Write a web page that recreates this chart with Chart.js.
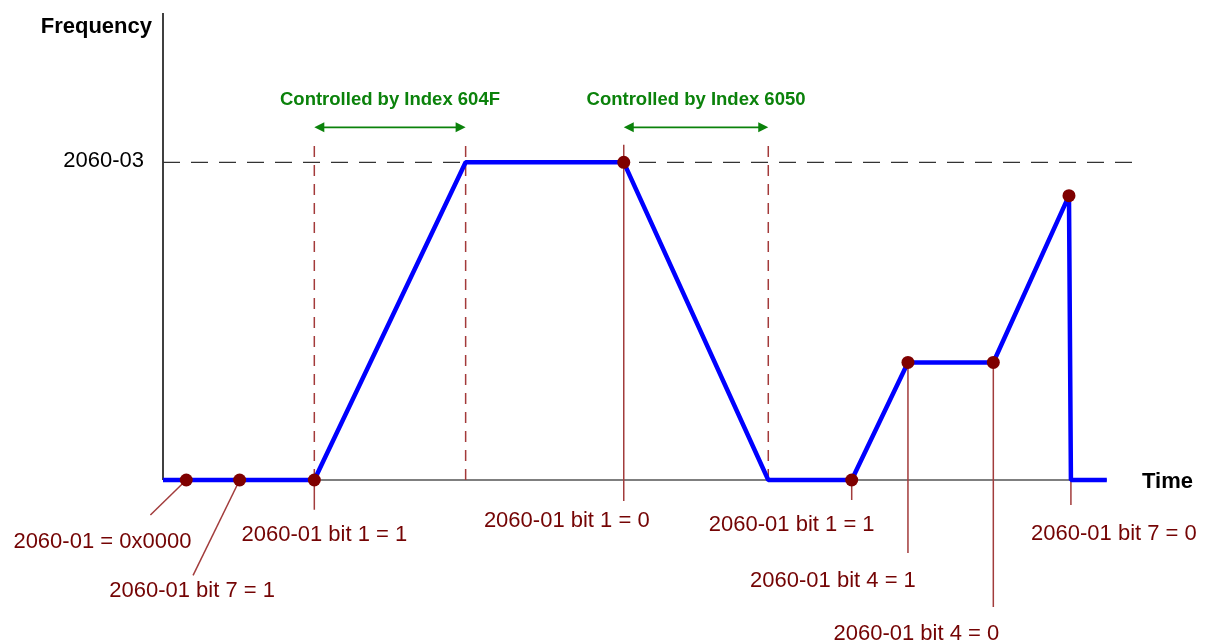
<!DOCTYPE html>
<html>
<head>
<meta charset="utf-8">
<title>Frequency profile</title>
<script src="https://cdn.jsdelivr.net/npm/chart.js@4/dist/chart.umd.min.js"></script>
<style>
  html, body { margin: 0; padding: 0; background: #fff; }
  canvas { display: block; }
</style>
</head>
<body>
<canvas id="profileChart" width="1208" height="643"></canvas>
<script>
// frequency profile (time in arbitrary units, frequency in % of 2060-03)
const profileTime = [0, 15.6, 31.2, 47.5, 62.4, 71.0, 76.8, 85.6, 93.4, 93.6, 97.3];
const profileFreq = [0, 0, 100, 100, 0, 0, 37, 37, 89.5, 0, 0];

// control word events
const eventTime = [2.4, 7.9, 15.6, 47.5, 71.0, 76.8, 85.6, 93.4];
const eventFreq = [0, 0, 0, 100, 0, 37, 37, 89.5];
const eventLabels = [
    '2060-01 = 0x0000',
    '2060-01 bit 7 = 1',
    '2060-01 bit 1 = 1',
    '2060-01 bit 1 = 0',
    '2060-01 bit 1 = 1',
    '2060-01 bit 4 = 1',
    '2060-01 bit 4 = 0',
    '2060-01 bit 7 = 0'
];

// windows controlled by the ramp indexes
const windowStart = [15.6, 47.5];
const windowEnd = [31.2, 62.4];
const windowLabels = ['Controlled by Index 604F', 'Controlled by Index 6050'];
const guideTime = [15.6, 31.2, 62.4];

// y tick
const levelValues = [100];
const levelLabels = ['2060-03'];

// callout leaders (data units) and label offsets from the leader end (px)
const leaderFrom = [[2.4, 0], [7.9, 0], [15.6, 0], [47.5, 105.5], [71.0, 0], [76.8, 37], [85.6, 37], [93.6, 0]];
const leaderTo = [[-1.3, -11], [3.1, -30], [15.6, -9.4], [47.5, -6.6], [71.0, -6.3], [76.8, -23], [85.6, -40], [93.6, -7.9]];
const labelOffset = [[-48, 33], [-1, 22], [10, 31], [-57, 26], [-60, 31], [-75, 34], [-77, 33], [43, 35]];

const guideTop = 107;
const arrowLevel = 111;

const RED = '#740404';
const LEADER = '#a23c3c';
const GREEN = '#0b820b';

const datasets = [];

datasets.push({
    label: 'events',
    data: eventTime.map((t, i) => ({ x: t, y: eventFreq[i] })),
    showLine: false,
    pointRadius: 6.5,
    pointBackgroundColor: '#7f0000',
    pointBorderColor: '#7f0000',
    pointBorderWidth: 0,
    clip: false,
    order: 0
});

datasets.push({
    label: 'Frequency',
    data: profileTime.map((t, i) => ({ x: t, y: profileFreq[i] })),
    borderColor: '#0000ff',
    borderWidth: 4.5,
    pointRadius: 0,
    tension: 0,
    borderJoinStyle: 'bevel',
    clip: false,
    order: 1
});

leaderFrom.forEach((p, i) => {
    datasets.push({
        label: 'leader' + i,
        data: [{ x: p[0], y: p[1] }, { x: leaderTo[i][0], y: leaderTo[i][1] }],
        borderColor: LEADER,
        borderWidth: 1.5,
        pointRadius: 0,
        clip: false,
        order: 2
    });
});

guideTime.forEach((t, i) => {
    datasets.push({
        label: 'guide' + i,
        data: [{ x: t, y: 0 }, { x: t, y: guideTop }],
        borderColor: '#a33a3a',
        borderWidth: 1.5,
        borderDash: [11, 8],
        pointRadius: 0,
        order: 3
    });
});

levelValues.forEach((v, i) => {
    datasets.push({
        label: levelLabels[i],
        data: [{ x: 0, y: v }, { x: 100, y: v }],
        borderColor: '#333',
        borderWidth: 1.3,
        borderDash: [17, 11],
        pointRadius: 0,
        order: 4
    });
});

function arrowLine(ctx, x1, x2, yy) {
    ctx.beginPath();
    ctx.moveTo(x1 + 6, yy);
    ctx.lineTo(x2 - 6, yy);
    ctx.stroke();
    ctx.beginPath();
    ctx.moveTo(x1, yy);
    ctx.lineTo(x1 + 10, yy - 5);
    ctx.lineTo(x1 + 10, yy + 5);
    ctx.closePath();
    ctx.fill();
    ctx.beginPath();
    ctx.moveTo(x2, yy);
    ctx.lineTo(x2 - 10, yy - 5);
    ctx.lineTo(x2 - 10, yy + 5);
    ctx.closePath();
    ctx.fill();
}

const overlay = {
    id: 'overlay',
    beforeDatasetsDraw(chart) {
        const { ctx, scales: { x, y } } = chart;
        const x0 = x.getPixelForValue(0);
        const y0 = y.getPixelForValue(0);
        ctx.save();
        ctx.strokeStyle = '#000';
        ctx.lineWidth = 1.5;
        ctx.beginPath();
        ctx.moveTo(x0, y.getPixelForValue(y.max));
        ctx.lineTo(x0, y0);
        ctx.stroke();
        ctx.lineWidth = 1.2;
        ctx.beginPath();
        ctx.moveTo(x0, y0);
        ctx.lineTo(x.getPixelForValue(profileTime[profileTime.length - 1]), y0);
        ctx.stroke();
        ctx.restore();
    },
    afterDatasetsDraw(chart) {
        const { ctx, chartArea, scales: { x, y } } = chart;
        const x0 = x.getPixelForValue(0);
        const y0 = y.getPixelForValue(0);
        ctx.save();

        // axis titles
        ctx.fillStyle = '#000';
        ctx.font = 'bold 22px "Liberation Sans", Arial, sans-serif';
        ctx.textAlign = 'right';
        ctx.textBaseline = 'alphabetic';
        ctx.fillText('Frequency', x0 - 11, chartArea.top + 20);
        ctx.textAlign = 'left';
        ctx.fillText('Time', chartArea.right + 9, y0 + 8);

        // level tick
        ctx.font = '22px "Liberation Sans", Arial, sans-serif';
        ctx.textAlign = 'right';
        levelValues.forEach((v, i) => {
            ctx.fillText(levelLabels[i], x0 - 19, y.getPixelForValue(v) + 5);
        });

        // controlled windows
        ctx.strokeStyle = GREEN;
        ctx.fillStyle = GREEN;
        ctx.lineWidth = 1.6;
        ctx.font = 'bold 18.5px "Liberation Sans", Arial, sans-serif';
        ctx.textAlign = 'center';
        windowStart.forEach((s, i) => {
            const xa = x.getPixelForValue(s);
            const xb = x.getPixelForValue(windowEnd[i]);
            const ya = y.getPixelForValue(arrowLevel);
            arrowLine(ctx, xa, xb, ya);
            ctx.fillText(windowLabels[i], (xa + xb) / 2, ya - 22);
        });

        // event labels
        ctx.fillStyle = RED;
        ctx.font = '22px "Liberation Sans", Arial, sans-serif';
        eventLabels.forEach((txt, i) => {
            const px = x.getPixelForValue(leaderTo[i][0]) + labelOffset[i][0];
            const py = y.getPixelForValue(leaderTo[i][1]) + labelOffset[i][1];
            ctx.fillText(txt, px, py);
        });
        ctx.restore();
    }
};

new Chart(document.getElementById('profileChart').getContext('2d'), {
    type: 'line',
    data: { datasets: datasets },
    options: {
        responsive: false,
        devicePixelRatio: 1,
        animation: false,
        layout: { padding: { left: 163, right: 75, top: 13, bottom: 163 } },
        plugins: {
            legend: { display: false },
            tooltip: { enabled: false }
        },
        scales: {
            x: { type: 'linear', min: 0, max: 100, display: false },
            y: { type: 'linear', min: 0, max: 147, display: false }
        }
    },
    plugins: [overlay]
});
</script>
</body>
</html>
